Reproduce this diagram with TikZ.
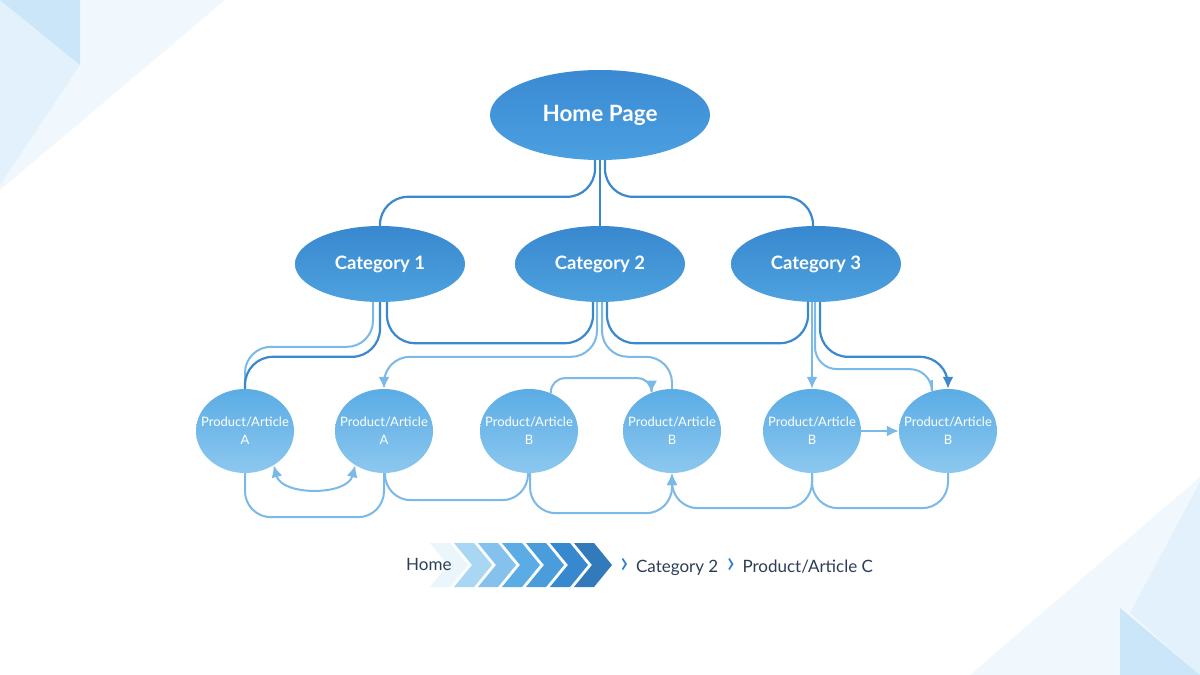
\documentclass[tikz,border=0pt]{standalone}
\usepackage{fontspec}
\setmainfont{Lato}
\usetikzlibrary{arrows.meta, positioning, shapes.geometric, backgrounds}

\definecolor{linkdark}{HTML}{3B88CD}
\definecolor{linklight}{HTML}{7AB9E8}
\definecolor{crumbtext}{HTML}{2C3E57}
\definecolor{sepblue}{HTML}{2F80CC}
\definecolor{hometop}{HTML}{3A8AD3}
\definecolor{homebottom}{HTML}{4BA0E0}
\definecolor{cattop}{HTML}{3888CF}
\definecolor{catbottom}{HTML}{4EA2DE}
\definecolor{itemtop}{HTML}{5BACE5}
\definecolor{itembottom}{HTML}{8CC8EF}

\begin{document}
\begin{tikzpicture}[
    x=1pt, y=-1pt,
    home/.style={ellipse, inner sep=0pt, minimum width=220pt, minimum height=90pt, top color=hometop, bottom color=homebottom, text=white, font=\fontsize{22.5}{26}\selectfont\bfseries},
    cat/.style={ellipse, inner sep=0pt, minimum width=170pt, minimum height=76pt, top color=cattop, bottom color=catbottom, text=white, font=\fontsize{18.5}{22}\selectfont\bfseries},
    product/.style={ellipse, inner xsep=-16pt, inner ysep=0pt, minimum width=98pt, minimum height=84pt, top color=itemtop, bottom color=itembottom, text=white, align=center, font=\fontsize{13}{18}\selectfont},
    mainlink/.style={draw=linkdark, line width=2.2pt, rounded corners=28pt},
    sublink/.style={draw=linklight, line width=2pt, rounded corners=26pt},
    arrow/.style={-{Latex[length=12pt,width=11pt]}},
    twoway/.style={{Latex[length=12pt,width=11pt]}-{Latex[length=12pt,width=11pt]}},
    crumb/.style={text=crumbtext, font=\fontsize{17}{20}\selectfont, inner sep=0pt},
    crumbsep/.style={text=sepblue, font=\fontsize{30}{30}\selectfont, inner sep=0pt}
]
\useasboundingbox (0,0) rectangle (1200,675);

% corner decoration
\begin{scope}[on background layer]
\fill[white] (0,0) rectangle (1200,675);
\fill[itembottom!12] (0,0) -- (225,0) -- (0,190) -- cycle;
\fill[itembottom!25] (0,0) -- (80,65) -- (0,185) -- cycle;
\fill[itembottom!45] (0,0) -- (80,0) -- (80,65) -- cycle;
\fill[itembottom!12] (1200,477) -- (1200,675) -- (970,675) -- cycle;
\fill[itembottom!25] (1200,482) -- (1200,675) -- (1130,613) -- cycle;
\fill[itembottom!45] (1120,608) -- (1200,675) -- (1120,675) -- cycle;
\end{scope}

\node[home] (home) at (600,115) {Home Page};
\node[cat] (cat1) at (380,264) {Category 1};
\node[cat] (cat2) at (600,264) {Category 2};
\node[cat] (cat3) at (816,264) {Category 3};

\node[product] (p1) at (245,431) {Product/Article\\A};
\node[product] (p2) at (384,431) {Product/Article\\A};
\node[product] (p3) at (529,431) {Product/Article\\B};
\node[product] (p4) at (672,431) {Product/Article\\B};
\node[product] (p5) at (812,431) {Product/Article\\B};
\node[product] (p6) at (948,431) {Product/Article\\B};

\begin{scope}[on background layer]
% home to categories
\draw[mainlink] ([xshift=-5pt]home.south) |- ([yshift=29pt]cat1.north) -- (cat1.north);
\draw[mainlink] (home.south) -- (cat2.north);
\draw[mainlink] ([xshift=5pt]home.south) |- ([xshift=-3pt, yshift=29pt]cat3.north) -- ([xshift=-3pt]cat3.north);

% categories to products
\draw[sublink] ([xshift=-7pt]cat1.south) |- ([yshift=42pt]p1.north) -- (p1.north);
\draw[mainlink] (cat1.south) |- ([yshift=32pt]p1.north) -- (p1.north);
\draw[mainlink] ([xshift=7pt]cat1.south) -- ++(0,41) -| ([xshift=-7pt]cat2.south);
\draw[mainlink] ([xshift=7pt]cat2.south) -- ++(0,41) -| ([xshift=-8pt]cat3.south);
\draw[sublink, arrow] ([xshift=-3pt]cat2.south) |- ([yshift=32pt]p2.north) -- (p2.north);
\draw[sublink] ([xshift=2pt]cat2.south) |- ([yshift=32pt]p4.north) -- (p4.north);
\draw[sublink, arrow] (cat3.south -| p5.north) -- (p5.north);
\draw[sublink, arrow, rounded corners=22pt] ([xshift=-1pt]cat3.south) |- ([yshift=22pt]p6.112) -- (p6.112);
\draw[mainlink, arrow] ([xshift=4pt]cat3.south) |- ([yshift=32pt]p6.north) -- (p6.north);

% between products
\draw[sublink, arrow, rounded corners=14pt] (p3.60) -- ++(0,-15) -| (p4.118);
\draw[sublink, arrow] (p5.east) -- (p6.west);
\draw[sublink, twoway] (p1.-50) to[out=-75, in=-105] (p2.-130);
\draw[sublink] (p1.south) -- ++(0,44) -| (p2.south);
\draw[sublink] ([xshift=1pt]p2.south) -- ++(0,27) -| ([xshift=-1pt]p3.south);
\draw[sublink, arrow] ([xshift=1pt]p3.south) -- ++(0,40) -| (p4.south);
\draw[sublink, arrow] (p5.south) -- ++(0,35) -| (p4.south);
\draw[sublink] (p5.south) -- ++(0,35) -| (p6.south);
\end{scope}

% breadcrumb
\foreach \shade [count=\i from 0] in {itembottom!18, itembottom!75, itemtop!75, itemtop, catbottom!80!cattop, cattop, cattop!90!black}
    \fill[\shade] (430+24*\i,543) -- ++(20,0) -- ++(18,22) -- ++(-18,22) -- ++(-20,0) -- ++(18,-22) -- cycle;
\node[crumb, anchor=base west] (crumbhome) at (406,570) {Home};
\node[crumbsep, anchor=base west] (sep1) at (620,572) {›};
\node[crumb, base right=7pt of sep1] (crumbcat) {Category 2};
\node[crumbsep, base right=8pt of crumbcat] (sep2) {›};
\node[crumb, base right=7pt of sep2] (crumbitem) {Product/Article C};
\end{tikzpicture}
\end{document}
